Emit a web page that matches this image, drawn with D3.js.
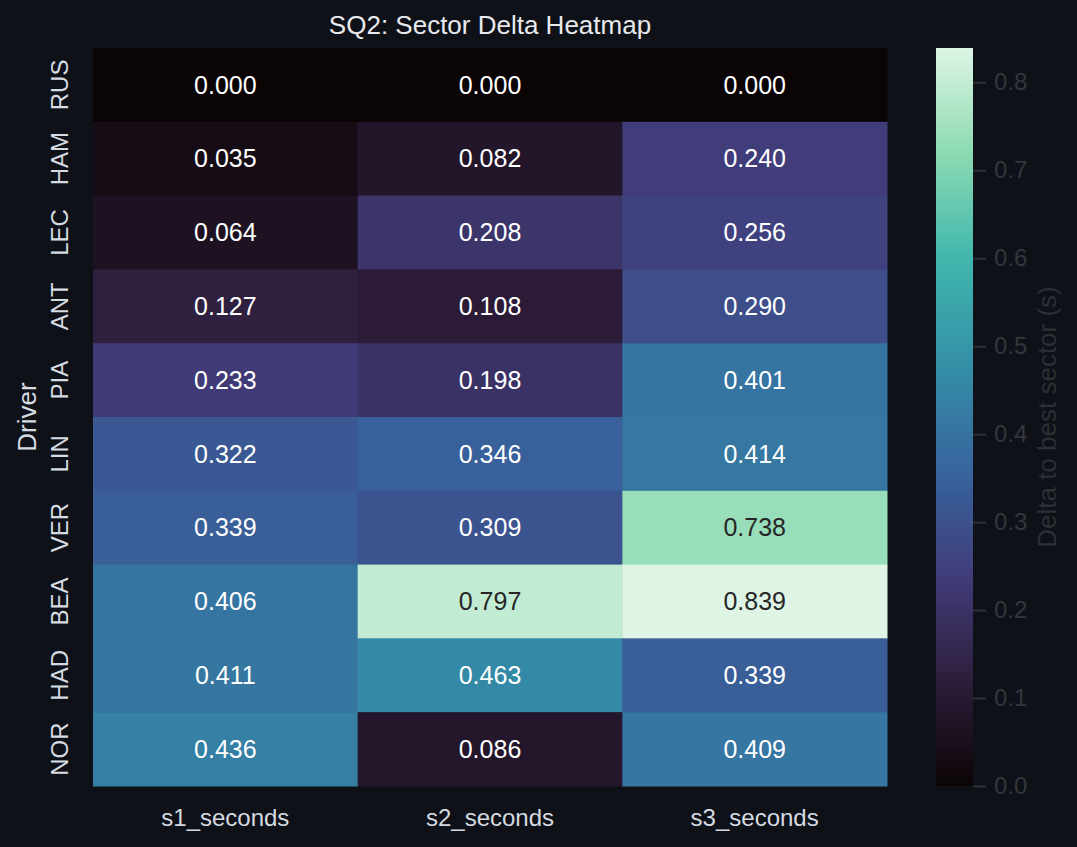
<!DOCTYPE html>
<html>
<head>
<meta charset="utf-8">
<script src="https://cdn.jsdelivr.net/npm/d3@7"></script>
<style>
  html, body { margin: 0; padding: 0; background: #0e1117; }
  svg { display: block; font-family: "Liberation Sans", Arial, sans-serif; }
</style>
</head>
<body>
<script>
const drivers = ["RUS", "HAM", "LEC", "ANT", "PIA", "LIN", "VER", "BEA", "HAD", "NOR"];
const sectors = ["s1_seconds", "s2_seconds", "s3_seconds"];
const s1 = [0.000, 0.035, 0.064, 0.127, 0.233, 0.322, 0.339, 0.406, 0.411, 0.436];
const s2 = [0.000, 0.082, 0.208, 0.108, 0.198, 0.346, 0.309, 0.797, 0.463, 0.086];
const s3 = [0.000, 0.240, 0.256, 0.290, 0.401, 0.414, 0.738, 0.839, 0.339, 0.409];
const cbTicks = [0.0, 0.1, 0.2, 0.3, 0.4, 0.5, 0.6, 0.7, 0.8];

// mako colormap stops
const makoColors = ["#0b0405", "#2e1e3b", "#413d7b", "#37659e", "#348fa7", "#40b7ad", "#8bdab2", "#def5e5"];

const W = 1077, H = 847;
const plot = { left: 93, right: 887, top: 48, bottom: 786 };
const cb = { left: 936, right: 973 };

const svg = d3.select("body").append("svg")
    .attr("width", W)
    .attr("height", H);

svg.append("rect").attr("width", W).attr("height", H).attr("fill", "#0e1117");

const cells = [];
const cols = [s1, s2, s3];
drivers.forEach((d, i) => {
    sectors.forEach((s, j) => cells.push({ driver: d, sector: s, value: cols[j][i] }));
});

const vmin = 0, vmax = d3.max(cells, d => d.value);

const x = d3.scaleBand().domain(sectors).range([plot.left, plot.right]);
const y = d3.scaleBand().domain(drivers).range([plot.top, plot.bottom]);

const norm = d3.scaleLinear().domain([vmin, vmax]).range([0, 1]);
const cmap = d3.scaleLinear()
    .domain(makoColors.map((c, i) => i / (makoColors.length - 1)))
    .range(makoColors)
    .interpolate(d3.interpolateRgb);
const color = v => cmap(norm(v));

function luminance(c) {
    const rgb = d3.rgb(c);
    const f = v => { v /= 255; return v <= 0.03928 ? v / 12.92 : Math.pow((v + 0.055) / 1.055, 2.4); };
    return 0.2126 * f(rgb.r) + 0.7152 * f(rgb.g) + 0.0722 * f(rgb.b);
}

// cells
svg.append("g").selectAll("rect")
    .data(cells)
    .join("rect")
    .attr("x", d => x(d.sector))
    .attr("y", d => y(d.driver))
    .attr("width", x.bandwidth() + 0.5)
    .attr("height", y.bandwidth() + 0.5)
    .attr("fill", d => color(d.value));

// annotations
svg.append("g").selectAll("text")
    .data(cells)
    .join("text")
    .attr("x", d => x(d.sector) + x.bandwidth() / 2)
    .attr("y", d => y(d.driver) + y.bandwidth() / 2)
    .attr("dy", "0.35em")
    .attr("text-anchor", "middle")
    .style("font-size", "25px")
    .attr("fill", d => luminance(color(d.value)) > 0.408 ? "#262626" : "#ffffff")
    .text(d => d.value.toFixed(3));

// x tick labels
svg.append("g").selectAll("text")
    .data(sectors)
    .join("text")
    .attr("x", d => x(d) + x.bandwidth() / 2)
    .attr("y", 826)
    .attr("text-anchor", "middle")
    .style("font-size", "24px")
    .attr("fill", "#d6dbe2")
    .text(d => d);

// y tick labels
svg.append("g").selectAll("text")
    .data(drivers)
    .join("text")
    .attr("transform", d => `translate(68,${y(d) + y.bandwidth() / 2}) rotate(-90)`)
    .attr("text-anchor", "middle")
    .style("font-size", "24px")
    .attr("fill", "#d6dbe2")
    .text(d => d);

// y axis label
svg.append("text")
    .attr("transform", `translate(36,${(plot.top + plot.bottom) / 2}) rotate(-90)`)
    .attr("text-anchor", "middle")
    .style("font-size", "26px")
    .attr("fill", "#d6dbe2")
    .text("Driver");

// title
svg.append("text")
    .attr("x", (plot.left + plot.right) / 2)
    .attr("y", 34)
    .attr("text-anchor", "middle")
    .style("font-size", "26px")
    .attr("fill", "#e8eaed")
    .text("SQ2: Sector Delta Heatmap");

// colorbar
const defs = svg.append("defs");
const grad = defs.append("linearGradient")
    .attr("id", "cbgrad")
    .attr("x1", 0).attr("y1", 1).attr("x2", 0).attr("y2", 0);
d3.range(0, 1.0001, 0.02).forEach(t => {
    grad.append("stop").attr("offset", t).attr("stop-color", cmap(t));
});

svg.append("rect")
    .attr("x", cb.left)
    .attr("y", plot.top)
    .attr("width", cb.right - cb.left)
    .attr("height", plot.bottom - plot.top)
    .attr("fill", "url(#cbgrad)");

const cy = d3.scaleLinear().domain([vmin, vmax]).range([plot.bottom, plot.top]);
const cbAxis = svg.append("g")
    .attr("transform", `translate(${cb.right},0)`)
    .call(d3.axisRight(cy).tickValues(cbTicks).tickFormat(d3.format(".1f")).tickSize(13).tickPadding(8));
cbAxis.select(".domain").remove();
cbAxis.selectAll(".tick line").attr("stroke", "#2f3237").attr("stroke-width", 2);
cbAxis.selectAll(".tick text")
    .attr("fill", "#34373d")
    .style("font-size", "24px")
    .style("font-family", "'Liberation Sans', Arial, sans-serif");

svg.append("text")
    .attr("transform", `translate(1056,${(plot.top + plot.bottom) / 2}) rotate(-90)`)
    .attr("text-anchor", "middle")
    .style("font-size", "26px")
    .attr("fill", "#2b2f36")
    .text("Delta to best sector (s)");
</script>
</body>
</html>
